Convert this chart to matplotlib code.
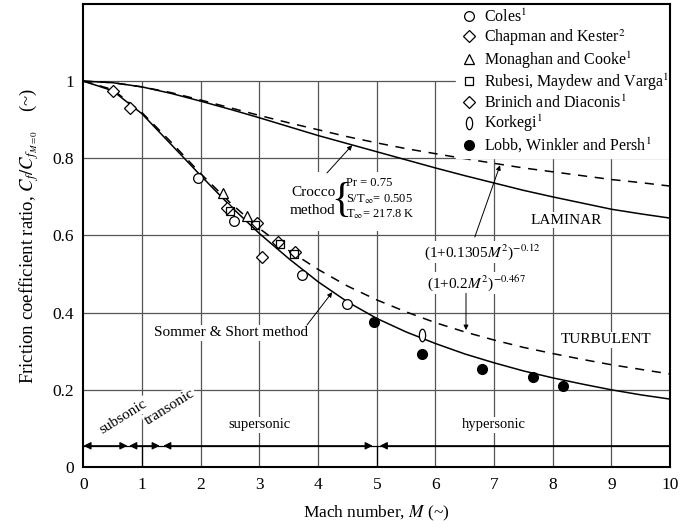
import numpy as np
import matplotlib.pyplot as plt
from matplotlib.path import Path
from matplotlib.transforms import Affine2D
from matplotlib.patches import Rectangle

plt.rcParams['font.family'] = 'Liberation Serif'
plt.rcParams['mathtext.fontset'] = 'stix'

# curves
mach = [0, 0.5, 1, 1.5, 2, 2.5, 3, 3.5, 4, 4.5, 5,
        5.5, 6, 6.5, 7, 7.5, 8, 8.5, 9, 9.5, 10]
lam_crocco = [1, 0.996, 0.985, 0.968, 0.948, 0.927, 0.905, 0.882, 0.859, 0.838, 0.817,
              0.796, 0.775, 0.755, 0.736, 0.717, 0.700, 0.684, 0.668, 0.656, 0.645]
lam_fit = [1, 0.996, 0.985, 0.970, 0.951, 0.931, 0.911, 0.892, 0.874, 0.856, 0.840,
           0.825, 0.812, 0.799, 0.787, 0.775, 0.765, 0.755, 0.745, 0.737, 0.728]
turb_sommer = [1, 0.975, 0.915, 0.835, 0.755, 0.677, 0.605, 0.540, 0.480, 0.428, 0.385,
               0.350, 0.320, 0.293, 0.270, 0.249, 0.231, 0.215, 0.200, 0.187, 0.176]
turb_fit = [1, 0.978, 0.918, 0.841, 0.760, 0.685, 0.618, 0.561, 0.512, 0.469, 0.433,
            0.402, 0.374, 0.350, 0.329, 0.310, 0.294, 0.279, 0.265, 0.253, 0.241]

# experimental points
coles_M = [1.95, 2.57, 3.73, 4.5]
coles_cf = [0.749, 0.637, 0.497, 0.422]
chapman_M = [0.5, 0.8]
chapman_cf = [0.975, 0.93]
monaghan_M = [2.38, 2.79]
monaghan_cf = [0.71, 0.65]
rubesi_M = [2.5, 2.93, 3.35, 3.58]
rubesi_cf = [0.664, 0.628, 0.578, 0.552]
brinich_M = [2.45, 2.95, 3.04, 3.32, 3.6]
brinich_cf = [0.672, 0.632, 0.545, 0.582, 0.556]
korkegi_M = [5.77]
korkegi_cf = [0.342]
lobb_M = [4.95, 5.77, 6.8, 7.67, 8.18]
lobb_cf = [0.376, 0.293, 0.254, 0.233, 0.21]

fig = plt.figure(figsize=(6.83, 5.28), dpi=100)
ax = fig.add_axes([0.1222, 0.1155, 0.859, 0.877])

gc = '#555555'
ax.vlines(range(1, 10), 0, 1.0, color=gc, lw=0.9, zorder=0)
ax.hlines([0.2, 0.4, 0.6, 0.8, 1.0], 0, 10, color=gc, lw=0.9, zorder=0)

ax.plot(mach, lam_crocco, 'k-', lw=1.1, zorder=2)
ax.plot(mach, lam_fit, 'k--', lw=1.1, dashes=(6, 5), zorder=2)
ax.plot(mach, turb_sommer, 'k-', lw=1.1, zorder=2)
ax.plot(mach, turb_fit, 'k--', lw=1.1, dashes=(6, 5), zorder=2)

mk = dict(ls='none', mfc='white', mec='k', mew=0.9, zorder=4)
ax.plot(coles_M, coles_cf, marker='o', ms=7, label='Coles$^1$', **mk)
ax.plot(chapman_M, chapman_cf, marker='D', ms=6, label='Chapman and Kester$^2$', **mk)
ax.plot(monaghan_M, monaghan_cf, marker='^', ms=6.5, label='Monaghan and Cooke$^1$', **mk)
ax.plot(rubesi_M, rubesi_cf, marker='s', ms=6, label='Rubesi, Maydew and Varga$^1$',
        ls='none', mfc='none', mec='k', mew=0.9, zorder=5)
ax.plot(brinich_M, brinich_cf, marker='D', ms=6, label='Brinich and Diaconis$^1$', **mk)
ell = Path.unit_circle().transformed(Affine2D().scale(0.5, 1.0))
ax.plot(korkegi_M, korkegi_cf, marker=ell, ms=9, label='Korkegi$^1$', **mk)
ax.plot(lobb_M, lobb_cf, marker='o', ms=7, ls='none', mfc='k', mec='k', zorder=4,
        label='Lobb, Winkler and Persh$^1$')

leg = ax.legend(loc='upper right', bbox_to_anchor=(1.006, 1.0), fontsize=11.5,
                frameon=True, framealpha=1, facecolor='white', edgecolor='white',
                handletextpad=0.3, labelspacing=0.08, handlelength=1.2,
                borderpad=0.2, borderaxespad=0.1, fancybox=False)
leg.set_zorder(2.3)

wb = dict(fc='white', ec='none', pad=1)

# Crocco block
ax.add_patch(Rectangle((3.5, 0.612), 2.3, 0.153, fc='white', ec='none', zorder=1))
ax.text(4.3, 0.712, 'Crocco', ha='right', va='center', fontsize=11, zorder=3)
ax.text(4.3, 0.666, 'method', ha='right', va='center', fontsize=11, zorder=3)
ax.text(4.4, 0.69, '{', ha='center', va='center', fontsize=30, zorder=3)
ax.text(4.48, 0.736, 'Pr = 0.75', ha='left', va='center', fontsize=9, zorder=3)
ax.text(4.48, 0.694, r'S/T$_\infty$= 0.505', ha='left', va='center', fontsize=9, zorder=3)
ax.text(4.48, 0.655, r'T$_\infty$= 217.8 K', ha='left', va='center', fontsize=9, zorder=3)
ap = dict(arrowstyle='-|>', color='k', lw=0.7, mutation_scale=7, shrinkA=0, shrinkB=0)
ax.annotate('', xy=(4.58, 0.834), xytext=(4.15, 0.762), arrowprops=ap)

ax.text(8.23, 0.64, 'LAMINAR', ha='center', va='center', fontsize=11, bbox=wb, zorder=3)
ax.text(8.9, 0.33, 'TURBULENT', ha='center', va='center', fontsize=11, bbox=wb, zorder=3)

ax.text(6.8, 0.557, r'(1+0.1305$M^2$)$^{-0.12}$', ha='center', va='center', fontsize=11,
        bbox=wb, zorder=3)
ax.annotate('', xy=(7.1, 0.782), xytext=(6.67, 0.596), arrowprops=ap)
ax.text(6.7, 0.477, r'(1+0.2$M^2$)$^{-0.467}$', ha='center', va='center', fontsize=11,
        bbox=wb, zorder=3)
ax.annotate('', xy=(6.52, 0.355), xytext=(6.52, 0.45), arrowprops=ap)

ax.text(2.52, 0.348, 'Sommer & Short method', ha='center', va='center', fontsize=11,
        bbox=wb, zorder=3)
ax.annotate('', xy=(4.24, 0.453), xytext=(3.81, 0.368), arrowprops=ap)

# flow regimes
ya = 0.055
ax.hlines(ya, 0, 10, color='k', lw=0.9, zorder=2)
ax.vlines([1, 5], 0, ya, color='k', lw=0.9, zorder=1)
rp = dict(arrowstyle='<|-|>', color='k', lw=0.9, mutation_scale=11, shrinkA=0, shrinkB=0)
for a, b in [(0, 0.75), (0.78, 1.3), (1.36, 4.93)]:
    ax.annotate('', xy=(b, ya), xytext=(a, ya), arrowprops=rp)
ax.annotate('', xy=(5.05, ya), xytext=(10, ya),
            arrowprops=dict(arrowstyle='-|>', color='k', lw=0.9, mutation_scale=11,
                            shrinkA=0, shrinkB=0))
ax.text(0.68, 0.13, 'subsonic', rotation=32, ha='center', va='center', fontsize=11,
        bbox=wb, zorder=3)
ax.text(1.47, 0.155, 'transonic', rotation=32, ha='center', va='center', fontsize=11,
        bbox=wb, zorder=3)
ax.text(3.0, 0.11, 'supersonic', ha='center', va='center', fontsize=10.5, bbox=wb, zorder=3)
ax.text(7.0, 0.11, 'hypersonic', ha='center', va='center', fontsize=10.5, bbox=wb, zorder=3)

ax.set_xlim(0, 10)
ax.set_ylim(0, 1.2)
ax.set_xticks(range(0, 11))
ax.set_yticks([0, 0.2, 0.4, 0.6, 0.8, 1])
ax.set_yticklabels(['0', '0.2', '0.4', '0.6', '0.8', '1'])
ax.tick_params(length=0, labelsize=12.5, pad=7)
for s in ax.spines.values():
    s.set_linewidth(1.5)

ax.set_xlabel(r'Mach number, $M$ (~)', fontsize=12.5, labelpad=8)
ax.set_ylabel(r'Friction coefficient ratio, $C_f/C_{f_{M=0}}$    (~)', fontsize=13.5,
              labelpad=8)

fig.savefig('out.png', dpi=100)
